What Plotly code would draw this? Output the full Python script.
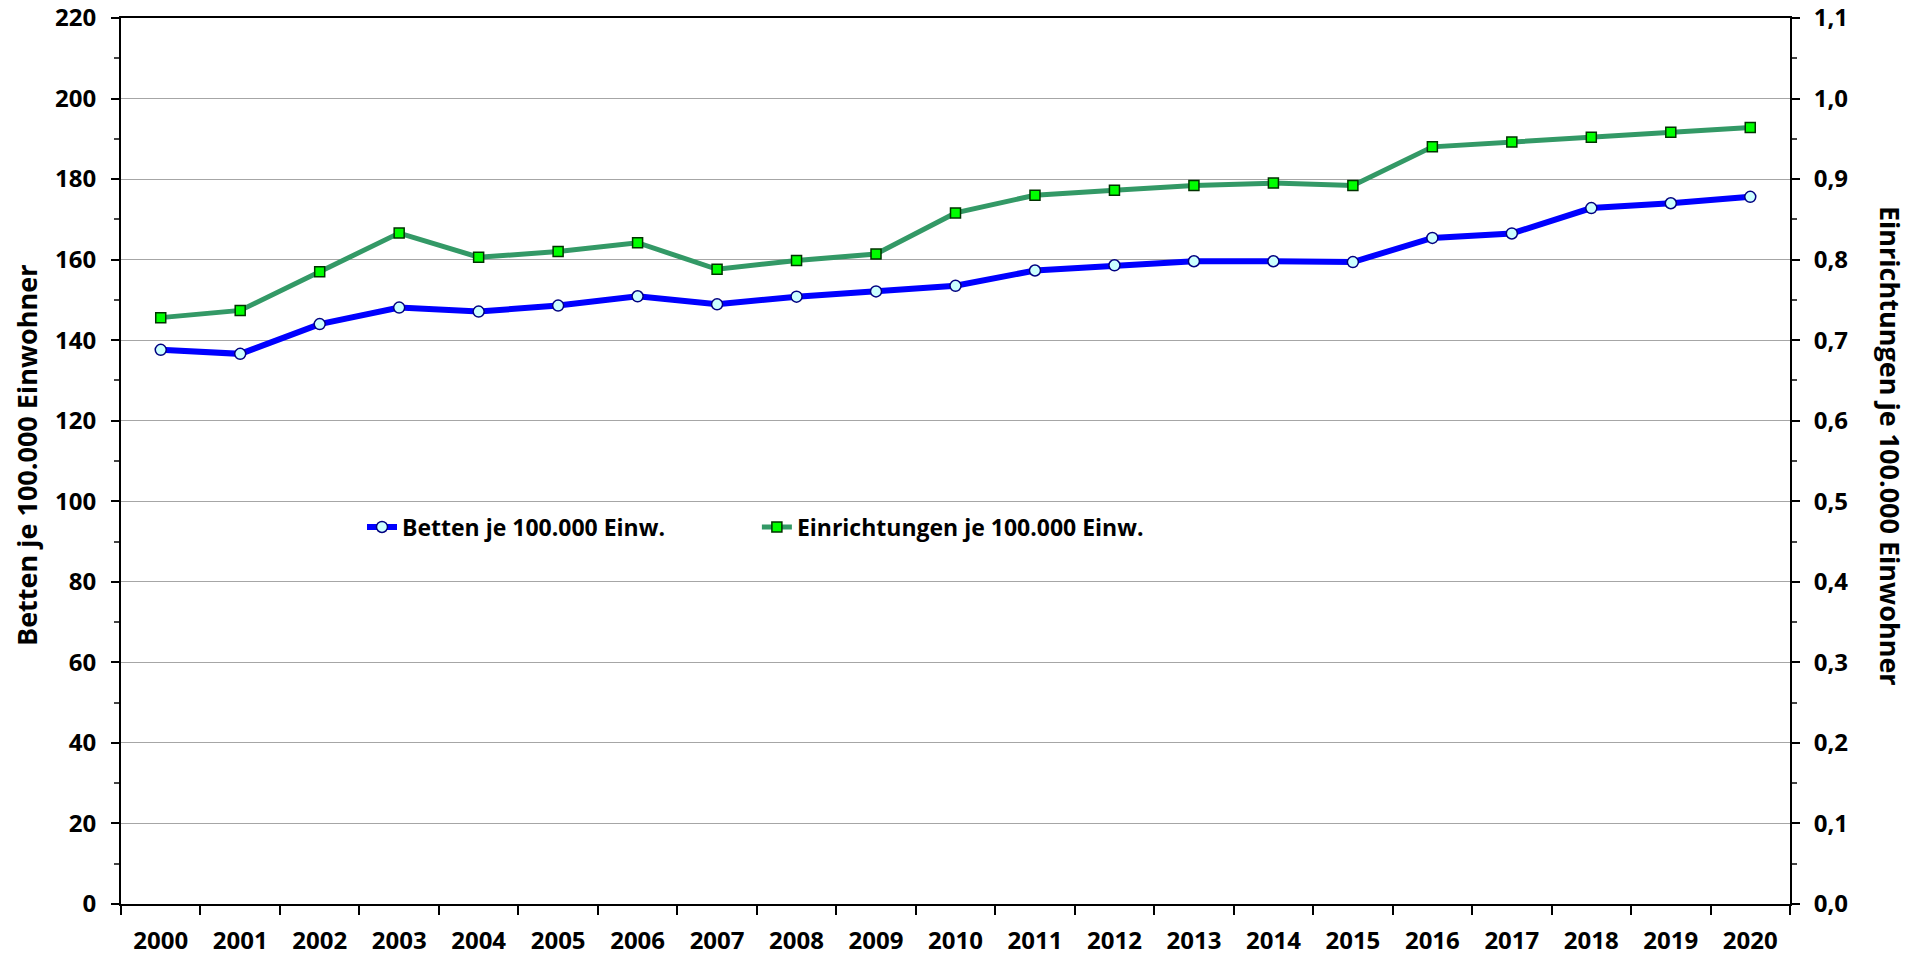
import plotly.graph_objects as go

years = [str(y) for y in range(2000, 2021)]
betten = [137.6, 136.6, 144.0, 148.1, 147.1, 148.6, 150.9, 148.9, 150.8, 152.1, 153.5,
          157.3, 158.6, 159.6, 159.6, 159.4, 165.4, 166.5, 172.8, 174.0, 175.6]
einrichtungen = [0.728, 0.737, 0.785, 0.833, 0.803, 0.810, 0.821, 0.788, 0.799, 0.807, 0.858,
                 0.880, 0.886, 0.892, 0.895, 0.892, 0.940, 0.946, 0.952, 0.958, 0.964]

FONT = "Open Sans"
tickfont = dict(family=FONT, size=24, color="black", weight="bold")
titlefont = dict(family=FONT, size=27, color="black", weight="bold")
legfont = dict(family=FONT, size=23, color="black", weight="bold")

fig = go.Figure()
fig.add_trace(go.Scatter(
    x=years, y=betten, name="Betten je 100.000 Einw.", mode="lines+markers",
    line=dict(color="#0000FF", width=6),
    marker=dict(symbol="circle", size=11, color="#CCFFFF", line=dict(color="#000080", width=1.5)),
    yaxis="y", legend="legend"))
fig.add_trace(go.Scatter(
    x=years, y=einrichtungen, name="Einrichtungen je 100.000 Einw.", mode="lines+markers",
    line=dict(color="#339966", width=5),
    marker=dict(symbol="square", size=10, color="#00FF00", line=dict(color="#003300", width=1.5)),
    yaxis="y2", legend="legend2"))

leg_common = dict(orientation="h", y=0.4255, xanchor="left", yanchor="middle",
                  font=legfont, bgcolor="rgba(0,0,0,0)", itemwidth=30)

fig.update_layout(
    width=1907, height=950,
    margin=dict(l=113, r=125, t=10, b=54, autoexpand=False),
    plot_bgcolor="white", paper_bgcolor="white",
    separators=",.",
    showlegend=True,
    legend=dict(x=0.1444, **leg_common),
    legend2=dict(x=0.381, **leg_common),
    xaxis=dict(type="category", range=[-0.5, 20.5], tickson="boundaries",
               showline=True, linecolor="black", linewidth=2, mirror=True,
               ticks="outside", ticklen=9, tickcolor="black", tickwidth=1.5,
               showgrid=False, tickfont=tickfont, ticklabelstandoff=14, automargin=False),
    yaxis=dict(range=[0, 220], dtick=20, tickformat="d",
               showline=True, linecolor="black", linewidth=2,
               ticks="outside", ticklen=8, tickcolor="black", tickwidth=1.5,
               showgrid=True, gridcolor="#A6A6A6", gridwidth=1,
               minor=dict(dtick=10, ticks="outside", ticklen=5, tickcolor="#444444", showgrid=False),
               zeroline=False, tickfont=tickfont, ticklabelstandoff=10, automargin=False,
               ticklabeloverflow="allow"),
    yaxis2=dict(range=[0, 1.1], dtick=0.1, tickformat=".1f", overlaying="y", side="right",
                showline=True, linecolor="black", linewidth=2,
                ticks="outside", ticklen=8, tickcolor="black", tickwidth=1.5,
                showgrid=False, zeroline=False, automargin=False, ticklabeloverflow="allow",
                minor=dict(dtick=0.05, ticks="outside", ticklen=5, tickcolor="#444444", showgrid=False),
                tickfont=tickfont, ticklabelstandoff=9),
)

fig.add_annotation(text="Betten je 100.000 Einwohner", textangle=-90,
                   xref="paper", yref="paper", x=0.0, y=0.5, xshift=-95, yshift=5,
                   xanchor="center", yanchor="middle", showarrow=False, font=titlefont)
fig.add_annotation(text="Einrichtungen je 100.000 Einwohner", textangle=90,
                   xref="paper", yref="paper", x=1.0, y=0.5, xshift=101, yshift=15,
                   xanchor="center", yanchor="middle", showarrow=False, font=titlefont)

fig.write_html("out.html")
